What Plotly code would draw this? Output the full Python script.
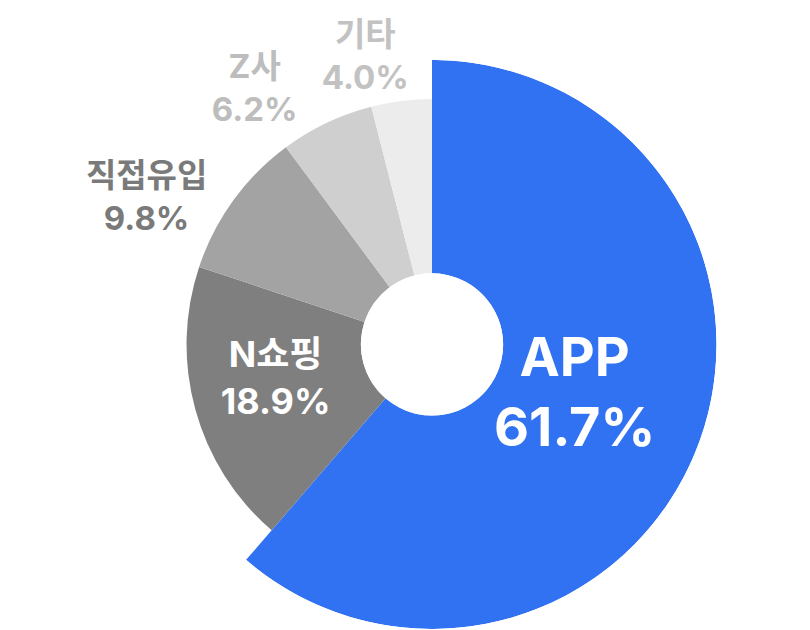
import plotly.graph_objects as go

# traffic share by inflow channel (%)
channels = ["APP", "N쇼핑", "직접유입", "Z사", "기타"]
shares = [61.7, 18.9, 9.8, 6.2, 4.0]

# styling
slice_colors = ["#3172f3", "#7f7f7f", "#a3a3a3", "#cfcfcf", "#ececec"]
slice_radius = [1.0, 0.817, 0.817, 0.817, 0.817]
label_inside = [True, True, False, False, False]
label_radius = [0.38, 0.42, 1.165, 1.115, 1.04]
label_shift = [0, 2, -9.2, -9.6, -6.0]
label_sizes = [54, 36, 33, 33, 33]
label_colors = ["#ffffff", "#ffffff", "#7a7a7a", "#bdbdbd", "#c2c2c2"]
FONT = "Inter, 'Noto Sans CJK KR', sans-serif"


def sliceAngles(values):
    """Width and mid angle of each slice, measured clockwise from 12 o'clock."""
    total = sum(values)
    widths = [v / total * 360 for v in values]
    mids = []
    start = 0
    for w in widths:
        mids.append(start + w / 2)
        start += w
    return widths, mids


def labelTrace(idx, subplot):
    return go.Scatterpolar(
        r=[label_radius[i] for i in idx],
        theta=[mids[i] + label_shift[i] for i in idx],
        mode="text",
        text=[f"<b>{channels[i]}<br>{shares[i]:.1f}%</b>" for i in idx],
        textposition="middle center",
        textfont=dict(family=FONT,
                      size=[label_sizes[i] for i in idx],
                      color=[label_colors[i] for i in idx]),
        subplot=subplot,
        cliponaxis=False,
        hoverinfo="skip",
    )


widths, mids = sliceAngles(shares)

fig = go.Figure()

fig.add_trace(go.Barpolar(
    r=slice_radius,
    theta=mids,
    width=widths,
    marker=dict(color=slice_colors, line=dict(width=0)),
    hoverinfo="skip",
))

inside = [i for i, f in enumerate(label_inside) if f]
outside = [i for i, f in enumerate(label_inside) if not f]
fig.add_trace(labelTrace(inside, "polar"))
# the outside labels sit on a larger quarter-polar sharing the same centre
fig.add_trace(labelTrace(outside, "polar2"))

angular = dict(direction="clockwise", rotation=90, visible=False, showgrid=False)

fig.update_layout(
    width=810,
    height=630,
    margin=dict(l=0, r=0, t=0, b=0),
    paper_bgcolor="white",
    plot_bgcolor="white",
    showlegend=False,
    polar=dict(
        domain=dict(x=[0.1722, 0.8747], y=[0.0143, 0.9175]),
        hole=0.25,
        bgcolor="rgba(0,0,0,0)",
        radialaxis=dict(range=[0, 1], visible=False, showgrid=False),
        angularaxis=angular,
    ),
    polar2=dict(
        domain=dict(x=[0.1196, 0.5235], y=[0.4659, 0.9851]),
        sector=[90, 180],
        hole=0.218,
        bgcolor="rgba(0,0,0,0)",
        radialaxis=dict(range=[0, 1.2], visible=False, showgrid=False),
        angularaxis=angular,
    ),
)

fig.write_html("out.html")
